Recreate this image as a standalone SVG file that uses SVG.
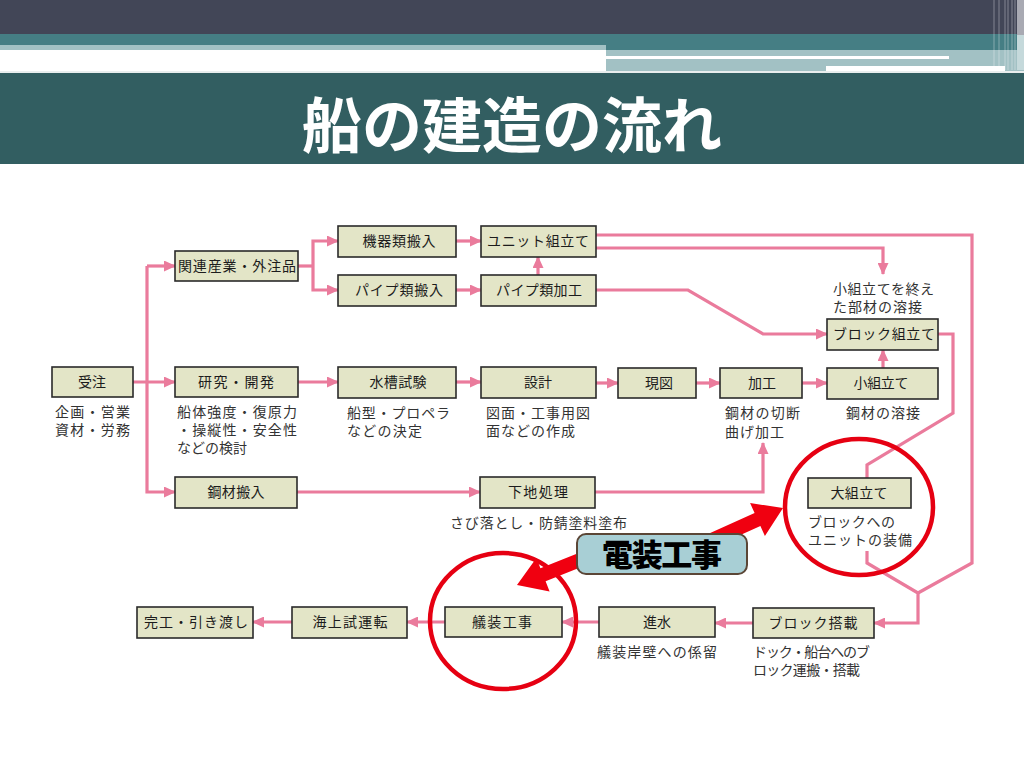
<svg xmlns="http://www.w3.org/2000/svg" width="1024" height="768" viewBox="0 0 1024 768">
<defs>
<style>
.node rect{fill:#e3e5c7;stroke:#2a2a2a;stroke-width:1.6}
.node text{font-family:"Noto Sans CJK JP","Noto Sans",sans-serif;font-size:14px;fill:#1c1c1c;text-anchor:middle}
.sub{font-family:"Noto Sans CJK JP","Noto Sans",sans-serif;font-size:14px;fill:#333}
.ln{fill:none;stroke:#ea7b9c;stroke-width:3.2;stroke-linejoin:miter}
.ar{marker-end:url(#ah)}
.ring{fill:none;stroke:#e60012;stroke-width:4.5}
.redarrow{fill:#f00010}
</style>
<marker id="ah" viewBox="0 0 12 11" refX="11" refY="5.5" markerWidth="12" markerHeight="11" markerUnits="userSpaceOnUse" orient="auto">
<path d="M0,0 L12,5.5 L0,11 z" fill="#ea7b9c"/>
</marker>
</defs>

<!-- header -->
<g id="header">
<rect x="0" y="0" width="1024" height="35" fill="#424657"/>
<rect x="0" y="34" width="1024" height="16" fill="#457e84"/>
<rect x="0" y="45" width="606" height="5" fill="#a2c1c4"/>
<rect x="0" y="50" width="606" height="21" fill="#ffffff"/>
<rect x="606" y="50" width="418" height="21" fill="#a2c1c4"/>
<rect x="606" y="56" width="343" height="3" fill="#ffffff"/>
<rect x="826" y="66" width="179" height="5" fill="#ffffff"/>
<g stroke="#ffffff" stroke-opacity="0.35" stroke-width="1">
<line x1="994" y1="0" x2="994" y2="70"/>
<line x1="999" y1="0" x2="999" y2="70"/>
<line x1="1005" y1="0" x2="1005" y2="70"/>
<line x1="1008" y1="0" x2="1008" y2="70"/>
<line x1="1012" y1="0" x2="1012" y2="70"/>
<line x1="1015" y1="0" x2="1015" y2="70"/>
</g>
<rect x="1017" y="0" width="7" height="35" fill="#a9aab3"/>
<rect x="1017" y="35" width="7" height="35" fill="#c5d9db"/>
<rect x="0" y="71" width="1024" height="2" fill="#e9eeee"/>
<rect x="0" y="73" width="1024" height="91" fill="#325e61"/>
<text x="512" y="148" font-family="'Noto Sans CJK JP','Noto Sans',sans-serif" font-size="60" font-weight="600" fill="#ffffff" text-anchor="middle">船の建造の流れ</text>
</g>

<!-- connectors -->
<g id="connectors">
<path class="ln ar" d="M133,382 H175"/>
<path class="ln ar" d="M147,266 H175"/>
<path class="ln ar" d="M147,266 V492 H175"/>
<path class="ln" d="M298,266 H313"/>
<path class="ln ar" d="M313,266 V241 H338"/>
<path class="ln ar" d="M313,266 V290 H338"/>
<path class="ln ar" d="M456,241 H481"/>
<path class="ln ar" d="M456,290 H481"/>
<path class="ln ar" d="M538,275 V257"/>
<path class="ln" d="M596,235 H972 V563 L918,593"/>
<path class="ln ar" d="M596,248 H883 V274"/>
<path class="ln ar" d="M596,290 H688 L763,334 H827"/>
<path class="ln ar" d="M883,368 V350"/>
<path class="ln" d="M938,334 H953 V413 L867,465 V478"/>
<path class="ln ar" d="M867,551 V563 L918,593 V623 H874"/>
<path class="ln ar" d="M298,382 H338"/>
<path class="ln ar" d="M456,382 H481"/>
<path class="ln ar" d="M596,383 H618"/>
<path class="ln ar" d="M696,383 H720"/>
<path class="ln ar" d="M802,383 H827"/>
<path class="ln ar" d="M297,492 H480"/>
<path class="ln ar" d="M595,492 H763 V443"/>
<path class="ln ar" d="M753,623 H715"/>
<path class="ln ar" d="M599,622 H562"/>
<path class="ln ar" d="M445,622 H407"/>
<path class="ln ar" d="M292,622 H253"/>
</g>

<!-- nodes -->
<g id="n-juchu" class="node"><rect x="52" y="367" width="81" height="30"/><text x="92" y="387">受注</text></g>
<g id="n-kanren" class="node"><rect x="175" y="251" width="123" height="30"/><text x="237" y="271" textLength="118">関連産業・外注品</text></g>
<g id="n-kenkyu" class="node"><rect x="175" y="367" width="123" height="30"/><text x="236" y="387" textLength="76">研究・開発</text></g>
<g id="n-kozai" class="node"><rect x="175" y="477" width="122" height="31"/><text x="236" y="497" textLength="57">鋼材搬入</text></g>
<g id="n-kiki" class="node"><rect x="338" y="226" width="118" height="31"/><text x="399" y="246" textLength="73">機器類搬入</text></g>
<g id="n-pipehan" class="node"><rect x="338" y="275" width="118" height="31"/><text x="399" y="295" textLength="88">パイプ類搬入</text></g>
<g id="n-suiso" class="node"><rect x="338" y="367" width="118" height="31"/><text x="398" y="387" textLength="57">水槽試験</text></g>
<g id="n-unit" class="node"><rect x="481" y="226" width="115" height="31"/><text x="538" y="246" textLength="102">ユニット組立て</text></g>
<g id="n-pipekako" class="node"><rect x="481" y="275" width="115" height="31"/><text x="539" y="295" textLength="86">パイプ類加工</text></g>
<g id="n-sekkei" class="node"><rect x="481" y="367" width="115" height="31"/><text x="538" y="387">設計</text></g>
<g id="n-shitaji" class="node"><rect x="480" y="477" width="115" height="31"/><text x="538" y="497" textLength="60">下地処理</text></g>
<g id="n-genzu" class="node"><rect x="618" y="368" width="78" height="30"/><text x="659" y="388">現図</text></g>
<g id="n-kako" class="node"><rect x="720" y="368" width="82" height="30"/><text x="762" y="388">加工</text></g>
<g id="n-kokumi" class="node"><rect x="827" y="368" width="111" height="31"/><text x="881" y="388" textLength="55">小組立て</text></g>
<g id="n-block" class="node"><rect x="827" y="319" width="111" height="31"/><text x="884" y="339" textLength="102">ブロック組立て</text></g>
<g id="n-ogumi" class="node"><rect x="808" y="478" width="103" height="30"/><text x="859" y="498" textLength="57">大組立て</text></g>
<g id="n-tosai" class="node"><rect x="753" y="608" width="121" height="30"/><text x="813" y="628" textLength="89">ブロック搭載</text></g>
<g id="n-shinsui" class="node"><rect x="599" y="607" width="116" height="30"/><text x="657" y="627">進水</text></g>
<g id="n-giso" class="node"><rect x="445" y="607" width="117" height="30"/><text x="502" y="627" textLength="60">艤装工事</text></g>
<g id="n-kaijo" class="node"><rect x="292" y="607" width="115" height="31"/><text x="350" y="627" textLength="75">海上試運転</text></g>
<g id="n-kanko" class="node"><rect x="137" y="607" width="116" height="31"/><text x="196" y="627" textLength="104">完工・引き渡し</text></g>

<!-- sub labels -->
<g id="labels">
<text class="sub" x="55" y="417" textLength="75">企画・営業</text>
<text class="sub" x="55" y="435" textLength="75">資材・労務</text>
<text class="sub" x="177" y="417" textLength="120">船体強度・復原力</text>
<text class="sub" x="177" y="435" textLength="120">・操縦性・安全性</text>
<text class="sub" x="177" y="453" textLength="70">などの検討</text>
<text class="sub" x="347" y="418" textLength="103">船型・プロペラ</text>
<text class="sub" x="347" y="436" textLength="75">などの決定</text>
<text class="sub" x="486" y="418" textLength="104">図面・工事用図</text>
<text class="sub" x="486" y="436" textLength="89">面などの作成</text>
<text class="sub" x="725" y="418" textLength="75">鋼材の切断</text>
<text class="sub" x="725" y="437" textLength="59">曲げ加工</text>
<text class="sub" x="846" y="418" textLength="74">鋼材の溶接</text>
<text class="sub" x="833" y="294" textLength="101">小組立てを終え</text>
<text class="sub" x="833" y="312" textLength="89">た部材の溶接</text>
<text class="sub" x="450" y="528" textLength="177">さび落とし・防錆塗料塗布</text>
<text class="sub" x="808" y="527" textLength="87">ブロックへの</text>
<text class="sub" x="808" y="545" textLength="104">ユニットの装備</text>
<text class="sub" x="597" y="657" textLength="120">艤装岸壁への係留</text>
<text class="sub" x="753" y="657" textLength="117">ドック・船台へのブ</text>
<text class="sub" x="753" y="675" textLength="107">ロック運搬・搭載</text>
</g>

<!-- highlight -->
<g id="highlight">
<ellipse class="ring" cx="859" cy="507" rx="74" ry="68"/>
<ellipse class="ring" cx="503" cy="621" rx="73" ry="68"/>
<polygon class="redarrow" points="709.1,533.6 754.6,513.1 750.1,503.1 783,508 764.9,535.9 760.4,525.9 714.9,546.4"/>
<polygon class="redarrow" points="587.4,549.5 540.4,568.2 536.4,558.0 517,585 549.6,591.4 545.6,581.2 592.6,562.5"/>
</g>
<g id="n-denso">
<rect x="577" y="534" width="170" height="40" rx="9" ry="9" fill="#a8cfd5" stroke="#5b4636" stroke-width="2"/>
<text x="662" y="566" font-family="'Noto Sans CJK JP','Noto Sans',sans-serif" font-size="31" font-weight="900" fill="#000000" text-anchor="middle" textLength="120">電装工事</text>
</g>
</svg>
